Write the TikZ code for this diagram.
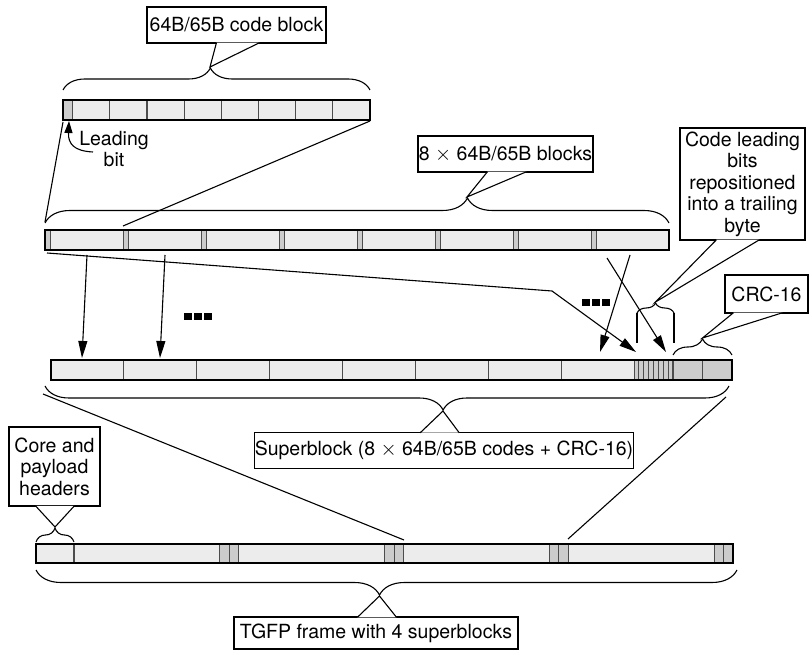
\documentclass[tikz,border=0pt]{standalone}
\usepackage{fontspec}
\setmainfont{TeX Gyre Heros}
\usetikzlibrary{arrows.meta,decorations.pathreplacing}
\definecolor{cellfill}{gray}{0.925}
\definecolor{bitfill}{gray}{0.8}
\definecolor{celledge}{gray}{0.3}

\begin{document}
\begin{tikzpicture}[x=1pt,y=-1pt,line width=1.1pt,>={Triangle[length=17pt,width=9pt]},
  every node/.style={font=\fontsize{19.5}{21.5}\selectfont},
  pbox/.style={draw,fill=white,line width=1.1pt,align=center,inner sep=0pt},
  ptr/.style={fill=white,draw,line width=1.1pt},
  frame/.style={draw=black,line width=2.6pt},
  sep/.style={draw=celledge,line width=1.2pt},
  strip/.style={fill=bitfill,draw=celledge,line width=1pt},
  brc/.style 2 args={decorate,decoration={brace,amplitude=#1,aspect=#2}}]
\useasboundingbox (0,0) rectangle (812,652);

% 64B/65B code block
\fill[cellfill] (63,100) rectangle (370,120);
\fill[bitfill] (63,100) rectangle (72.7,120);
\foreach \i in {0,...,7}
  \draw[sep] ({72.7+\i*37.16},100) -- ++(0,20);
\draw[frame] (63,100) rectangle (370,120);

% 8 blocks
\fill[cellfill] (45,230) rectangle (669,250);
\foreach \i in {0,...,7}
  \filldraw[strip] ({45.5+\i*78},230) rectangle ++(5,20);
\draw[frame] (45,230) rectangle (669,250);

% superblock
\fill[cellfill] (51,360) rectangle (634,380);
\foreach \i in {1,...,7}
  \draw[sep] ({51+\i*72.875},360) -- ++(0,20);
\foreach \i in {0,...,7}
  \filldraw[strip,line width=0.8pt] ({634+\i*4.875},360) rectangle ++(4.875,20);
\filldraw[strip,line width=1.2pt] (673,360) rectangle (702.5,380);
\filldraw[strip,line width=1.2pt] (702.5,360) rectangle (732,380);
\draw[frame] (51,360) rectangle (732,380);

% TGFP frame
\fill[cellfill] (36,544) rectangle (733,563);
\draw[sep] (74,544) -- ++(0,19);
\foreach \i in {0,...,3} {
  \filldraw[strip] ({219.75+\i*164.75},544) rectangle ++(9.5,19);
  \filldraw[strip] ({229.25+\i*164.75},544) rectangle ++(9.5,19);
}
\draw[frame] (36,544) rectangle (733,563);

% braces
\draw[brc={22pt}{0.48}] (63,90) -- (370,90);
\draw[brc={25pt}{0.677}] (45,223) -- (669,223);
\draw (637,343) -- (637,313) (674,343) -- (674,313);
\draw[brc={10pt}{0.5}] (637,313) -- (674,313);
\draw[brc={16pt}{0.5}] (673,355) -- (732,355);
\draw[brc={24pt}{0.418}] (729,386) -- (45,386);
\draw[brc={14pt}{0.5}] (36,542) -- (74,542);
\draw[brc={25pt}{0.51}] (737,570) -- (36,570);

\coordinate (blktip) at (210,67);
\coordinate (blkstip) at (467,197);
\coordinate (leadtip) at (655.5,302);
\coordinate (crctip) at (702.5,338);
\coordinate (suptip) at (443,411);
\coordinate (hdrtip) at (55,527);
\coordinate (tgfptip) at (379.5,596);

% callouts
\node[pbox,minimum width=179pt,minimum height=36pt] (blk) at (236.5,25) {64B/65B code block};
\filldraw[ptr] ([shift={(70pt,0.8pt)}]blk.south west) -- (blktip) -- ([shift={(113pt,0.8pt)}]blk.south west);
\node[pbox,minimum width=175pt,minimum height=36pt] (blks) at (505.5,154) {8 $\times$ 64B/65B blocks};
\filldraw[ptr] ([shift={(70pt,0.8pt)}]blks.south west) -- (blkstip) -- ([shift={(109pt,0.8pt)}]blks.south west);
\node[pbox,minimum width=125pt,minimum height=112pt] (lead) at (742.5,184) {Code leading\\bits\\repositioned\\into a trailing\\byte};
\filldraw[ptr] ([shift={(37pt,0.8pt)}]lead.south west) -- (leadtip) -- ([shift={(80pt,0.8pt)}]lead.south west);
\node[pbox,minimum width=83pt,minimum height=38pt] (crc) at (766.5,294) {CRC-16};
\filldraw[ptr] ([shift={(9pt,0.8pt)}]crc.south west) -- (crctip) -- ([shift={(58pt,0.8pt)}]crc.south west);
\node[pbox,minimum width=374pt,minimum height=36pt] (sup) at (444,450.5) {Superblock (8 $\times$ 64B/65B codes + CRC-16)};
\filldraw[ptr] ([shift={(166pt,-0.8pt)}]sup.north west) -- (suptip) -- ([shift={(205pt,-0.8pt)}]sup.north west);
\node[pbox,minimum width=91pt,minimum height=79pt] (hdr) at (54.5,466.5) {Core and\\payload\\headers};
\filldraw[ptr] ([shift={(27pt,0.8pt)}]hdr.south west) -- (hdrtip) -- ([shift={(66pt,0.8pt)}]hdr.south west);
\node[pbox,minimum width=284pt,minimum height=32pt] (tgfp) at (376,633) {TGFP frame with 4 superblocks};
\filldraw[ptr] ([shift={(124pt,-0.8pt)}]tgfp.north west) -- (tgfptip) -- ([shift={(163pt,-0.8pt)}]tgfp.north west);

% leading bit
\node[align=center,inner sep=0pt] (lbit) at (114,149) {Leading\\bit};
\coordinate (lbfoot) at (93,152);
\coordinate (leadbit) at (69,121);
\draw[->,>={Triangle[length=12pt,width=8pt]}] (lbfoot) .. controls (74,151) and (68,144) .. (leadbit);

% zoom lines
\coordinate (r1l) at (63,122);
\coordinate (r1r) at (370,121);
\coordinate (b2l) at (45,222);
\coordinate (c2) at (123,226);
\draw (r1l) -- (b2l);
\draw (r1r) -- (c2);

% moves into the superblock
\coordinate (m1a) at (87,255);  \coordinate (m1b) at (82,358);
\coordinate (m2a) at (165,255); \coordinate (m2b) at (160,358);
\coordinate (m3a) at (47,253);  \coordinate (m3k) at (552,291); \coordinate (m3b) at (636,352);
\coordinate (m4a) at (607,258); \coordinate (m4b) at (666,352);
\coordinate (m5a) at (630,255); \coordinate (m5b) at (600,352);
\draw[->] (m1a) -- (m1b);
\draw[->] (m2a) -- (m2b);
\draw[->] (m3a) -- (m3k) -- (m3b);
\draw[->] (m4a) -- (m4b);
\draw[->] (m5a) -- (m5b);
\foreach \d in {0,10,20} {
  \fill (184+\d,313) rectangle ++(8,7);
  \fill (582+\d,299) rectangle ++(8,7);
}

% superblock into the frame
\coordinate (b3l) at (43,394);  \coordinate (f1) at (404,540);
\coordinate (b3r) at (726,397); \coordinate (f2) at (568,539);
\draw (b3l) -- (f1);
\draw (b3r) -- (f2);
\end{tikzpicture}
\end{document}
